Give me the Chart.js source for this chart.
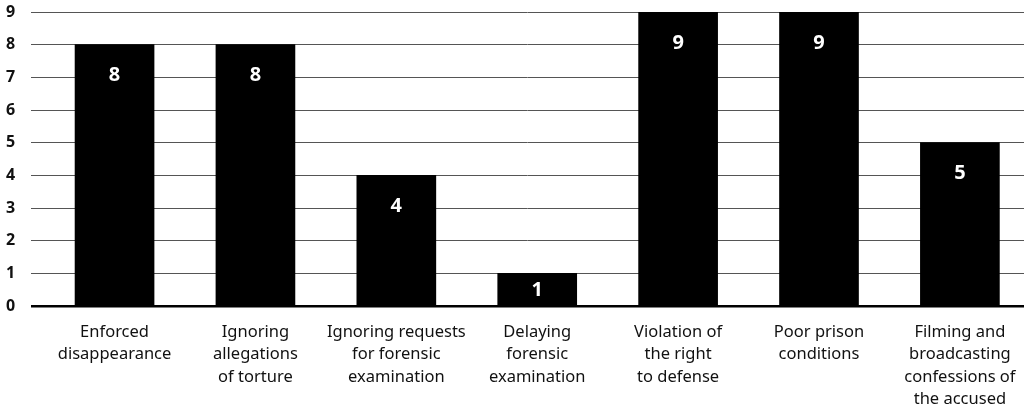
<!DOCTYPE html>
<html lang="en">
<head>
<meta charset="UTF-8">
<title>Violations</title>
<style>
  html,body{margin:0;padding:0;background:#fff;overflow:hidden}
  .wrap{width:1024px;height:419px;position:relative}
</style>
</head>
<body>
<div class="wrap"><canvas id="c"></canvas></div>
<script src="https://cdn.jsdelivr.net/npm/chart.js@4.4.1"></script>
<script>
/* ---------- data ---------- */
const categories = [
  ["Enforced","disappearance"],
  ["Ignoring","allegations","of torture"],
  ["Ignoring requests","for forensic","examination"],
  ["Delaying","forensic","examination"],
  ["Violation of","the right","to defense"],
  ["Poor prison","conditions"],
  ["Filming and","broadcasting","confessions of","the accused"]
];
const counts = [8, 8, 4, 1, 9, 9, 5];
const yTicks = [0,1,2,3,4,5,6,7,8,9];

const FONT = "'Noto Sans', sans-serif";

/* white value labels inside the bars */
const valueLabels = {
  id:'valueLabels',
  afterDatasetsDraw(chart){
    const {ctx} = chart;
    const meta = chart.getDatasetMeta(0);
    ctx.save();
    ctx.fillStyle = '#fff';
    ctx.font = `bold 20px ${FONT}`;
    ctx.textAlign = 'center';
    ctx.textBaseline = 'middle';
    meta.data.forEach((bar,i)=>{
      const y = Math.min(bar.y + 30, (bar.y + bar.base)/2);
      ctx.fillText(String(counts[i]), bar.x, y + 1);
    });
    ctx.restore();
  }
};

new Chart(document.getElementById('c'), {
  type:'bar',
  data:{
    datasets:[{
      data: counts.map((v,i)=>({x:i, y:v})),
      backgroundColor:'#000',
      barThickness:79
    }]
  },
  options:{
    responsive:true,
    maintainAspectRatio:false,
    animation:false,
    layout:{padding:{top:12,left:6,right:0,bottom:0}},
    plugins:{legend:{display:false},tooltip:{enabled:false}},
    scales:{
      x:{
        type:'linear',
        offset:false,
        min:-0.593,
        max:6.455,
        grid:{display:false},
        border:{display:false},
        afterBuildTicks(scale){ scale.ticks = categories.map((_,i)=>({value:i})); },
        afterFit(scale){ scale.height = 113; },
        ticks:{
          autoSkip:false,
          maxRotation:0,
          padding:7,
          color:'#111',
          font:{family:FONT,size:16.5,lineHeight:1.36},
          callback:(v)=>categories[v]
        }
      },
      y:{
        min:0,
        max:9,
        afterBuildTicks(scale){ scale.ticks = yTicks.map(v=>({value:v})); },
        afterFit(scale){ scale.width = 25; },
        border:{display:false},
        grid:{
          drawTicks:false,
          color:(c)=>c.tick && c.tick.value===0 ? '#000' : '#555',
          lineWidth:(c)=>c.tick && c.tick.value===0 ? 2.5 : 1
        },
        ticks:{
          crossAlign:'far',
          padding:0,
          color:'#111',
          font:{family:FONT,size:16,weight:'bold'}
        }
      }
    }
  },
  plugins:[valueLabels]
});
</script>
</body>
</html>
